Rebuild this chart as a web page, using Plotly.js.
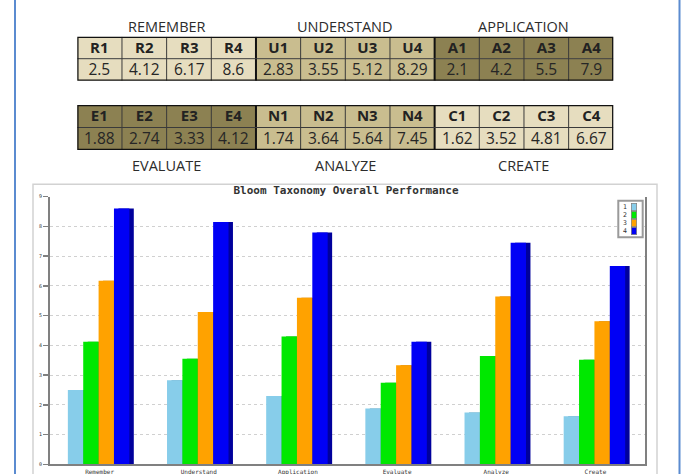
<!DOCTYPE html>
<html>
<head>
<meta charset="utf-8">
<script src="https://cdn.plot.ly/plotly-3.0.1.min.js"></script>
<style>html,body{margin:0;padding:0;background:#fff;}#chart{width:681px;height:474px;}</style>
</head>
<body>
<div id="chart"></div>
<script>
// ---- data ----
const categories = ['Remember', 'Understand', 'Application', 'Evaluate', 'Analyze', 'Create'];
const seriesNames = ['1', '2', '3', '4'];
const series1 = [2.5, 2.83, 2.3, 1.88, 1.74, 1.62];
const series2 = [4.12, 3.55, 4.3, 2.74, 3.64, 3.52];
const series3 = [6.17, 5.12, 5.6, 3.33, 5.64, 4.81];
const series4 = [8.6, 8.15, 7.8, 4.12, 7.45, 6.67];

const table1Groups = ['REMEMBER', 'UNDERSTAND', 'APPLICATION'];
const table1Headers = ['R1','R2','R3','R4','U1','U2','U3','U4','A1','A2','A3','A4'];
const table1Values = [2.5, 4.12, 6.17, 8.6, 2.83, 3.55, 5.12, 8.29, 2.1, 4.2, 5.5, 7.9];

const table2Groups = ['EVALUATE', 'ANALYZE', 'CREATE'];
const table2Headers = ['E1','E2','E3','E4','N1','N2','N3','N4','C1','C2','C3','C4'];
const table2Values = [1.88, 2.74, 3.33, 4.12, 1.74, 3.64, 5.64, 7.45, 1.62, 3.52, 4.81, 6.67];

const chartTitle = 'Bloom Taxonomy Overall Performance';

// ---- styles ----
const W = 681, H = 474;
const px = x => x / W;
const py = y => 1 - y / H;
const barColors = ['#87cdea', '#00e800', '#ffa200', '#0000f5'];
const sideColors = ['#5a9ab8', '#00a000', '#c07000', '#00009c'];
const light = '#e6ddbf', mid = '#c9bd8f', dark = '#8c8152';
const t1GroupFill = [light, mid, dark];
const t2GroupFill = [dark, mid, light];

const tblX0 = 77.3, tblX1 = 613.3;
const colW = (tblX1 - tblX0) / 12;

const traces = [];
const shapes = [];
const annotations = [];
const layout = {};

function discreteScale(cols) {
  const n = cols.length, out = [];
  cols.forEach((c, i) => { out.push([i / n, c]); out.push([(i + 1) / n, c]); });
  return out;
}

function addTable(headers, values, groupFill, ax, yTop, yBot) {
  const n = headers.length;
  const idx = headers.map((_, i) => i);
  const grp = headers.map((_, i) => Math.floor(i / 4));
  const common = {
    type: 'heatmap', xaxis: 'x' + ax, yaxis: 'y' + ax, x: idx,
    colorscale: discreteScale(groupFill), zmin: -0.5, zmax: 2.5, showscale: false,
    texttemplate: '%{text}', hoverinfo: 'skip'
  };
  traces.push(Object.assign({}, common, {
    y: [0], z: [grp], text: [headers],
    textfont: {family: 'Open Sans', size: 15, color: '#222', weight: 'bold'}
  }));
  traces.push(Object.assign({}, common, {
    y: [1], z: [grp], text: [values.map(v => String(v))],
    textfont: {family: 'Open Sans', size: 15.5, color: '#262626'}
  }));
  layout['xaxis' + ax] = {domain: [px(tblX0), px(tblX1)], range: [-0.5, n - 0.5], visible: false, anchor: 'y' + ax, fixedrange: true};
  layout['yaxis' + ax] = {domain: [py(yBot), py(yTop)], range: [1.5, -0.5], visible: false, anchor: 'x' + ax, fixedrange: true};
  const xr = 'x' + ax, yr = 'y' + ax;
  for (let i = 1; i < n; i++) {
    const thick = i % 4 === 0;
    shapes.push({type: 'line', xref: xr, yref: yr, x0: i - 0.5, x1: i - 0.5, y0: -0.5, y1: 1.5,
      line: {color: thick ? '#111' : '#3a3a3a', width: thick ? 2 : 1}});
  }
  shapes.push({type: 'line', xref: xr, yref: yr, x0: -0.5, x1: n - 0.5, y0: 0.5, y1: 0.5,
    line: {color: '#3a3a3a', width: 1}});
  shapes.push({type: 'rect', xref: xr, yref: yr, x0: -0.5, x1: n - 0.5, y0: -0.5, y1: 1.5,
    line: {color: '#111', width: 2.5}});
}
addTable(table1Headers, table1Values, t1GroupFill, 2, 36.7, 80.7);
addTable(table2Headers, table2Values, t2GroupFill, 3, 105, 150);

function groupLabels(groups, y) {
  groups.forEach((g, i) => {
    annotations.push({xref: 'paper', yref: 'paper', x: px(tblX0 + (i * 4 + 2) * colW), y: py(y),
      xanchor: 'center', yanchor: 'middle', showarrow: false, text: g,
      font: {family: 'Open Sans', size: 14.5, color: '#2c2c2c'}});
  });
}
groupLabels(table1Groups, 26.5);
groupLabels(table2Groups, 165);

// ---- bar chart ----
const allSeries = [series1, series2, series3, series4];
const barW = 0.155, off0 = -0.32, sideShift = 0.045;
allSeries.forEach((s, k) => {
  traces.push({
    type: 'bar', x: categories, y: s,
    width: barW, offset: off0 + k * barW + sideShift,
    marker: {color: sideColors[k], line: {width: 0}},
    showlegend: false, hoverinfo: 'skip'
  });
});
allSeries.forEach((s, k) => {
  traces.push({
    type: 'bar', x: categories, y: s, name: seriesNames[k],
    width: barW, offset: off0 + k * barW,
    marker: {color: barColors[k], line: {width: 0}}, showlegend: false
  });
});

// chart frame & page borders
shapes.push({type: 'rect', xref: 'paper', yref: 'paper', x0: px(33), x1: px(657), y0: py(480), y1: py(184.3),
  line: {color: '#d2d2d2', width: 1.5}, layer: 'below'});
shapes.push({type: 'line', xref: 'paper', yref: 'paper', x0: px(15), x1: px(15), y0: 0, y1: 1,
  line: {color: '#5b8bd0', width: 2}});
shapes.push({type: 'line', xref: 'paper', yref: 'paper', x0: px(679.5), x1: px(679.5), y0: 0, y1: 1,
  line: {color: '#5b8bd0', width: 2}});

// compact legend box (labels left, swatches right)
const lgX0 = 618.3, lgX1 = 642.7, lgY0 = 200.7, lgY1 = 237.3;
shapes.push({type: 'rect', xref: 'paper', yref: 'paper', x0: px(lgX0), x1: px(lgX1), y0: py(lgY1), y1: py(lgY0),
  line: {color: '#9a9a9a', width: 2}, fillcolor: '#ffffff', layer: 'above'});
const swTop = 202.6, swStep = 8.0;
seriesNames.forEach((nm, k) => {
  const yc = swTop + swStep * (k + 0.5);
  annotations.push({xref: 'paper', yref: 'paper', x: px(624.5), y: py(yc), xanchor: 'center', yanchor: 'middle',
    showarrow: false, text: nm, font: {family: 'DejaVu Sans Mono', size: 6.5, color: '#333'}});
  annotations.push({xref: 'paper', yref: 'paper', x: px(634.3), y: py(yc), xanchor: 'center', yanchor: 'middle',
    showarrow: false, text: ' ', width: 5, height: 7, bgcolor: barColors[k], borderpad: 0,
    bordercolor: '#7a7a7a', borderwidth: 0.7, font: {size: 4}});
});

Object.assign(layout, {
  width: W, height: H, autosize: false,
  margin: {l: 0, r: 0, t: 0, b: 0},
  paper_bgcolor: '#fff', plot_bgcolor: '#fff',
  barmode: 'overlay',
  showlegend: false,
  title: {text: '<b>' + chartTitle + '</b>', x: px(346), xanchor: 'center', y: py(190), yanchor: 'middle',
    font: {family: 'DejaVu Sans Mono', size: 11, color: '#333'}},
  xaxis: {domain: [px(50), px(645)], range: [-0.5, 5.5], type: 'category', anchor: 'y',
    showline: true, linecolor: '#808080', linewidth: 2, ticks: '', showgrid: false,
    tickfont: {family: 'DejaVu Sans Mono', size: 6, color: '#333'}},
  yaxis: {domain: [py(464.3), py(196.7)], range: [0, 9], dtick: 1, tick0: 0, anchor: 'x',
    showline: true, mirror: true, linecolor: '#808080', linewidth: 2,
    ticks: 'outside', ticklen: 5, tickcolor: '#808080', tickwidth: 1.5,
    showgrid: true, gridcolor: '#d0d0d0', griddash: 'dot', gridwidth: 1, zeroline: false,
    tickfont: {family: 'DejaVu Sans Mono', size: 5, color: '#333'}},
  shapes: shapes,
  annotations: annotations
});

Plotly.newPlot('chart', traces, layout, {displayModeBar: false, staticPlot: true});
</script>
</body>
</html>
